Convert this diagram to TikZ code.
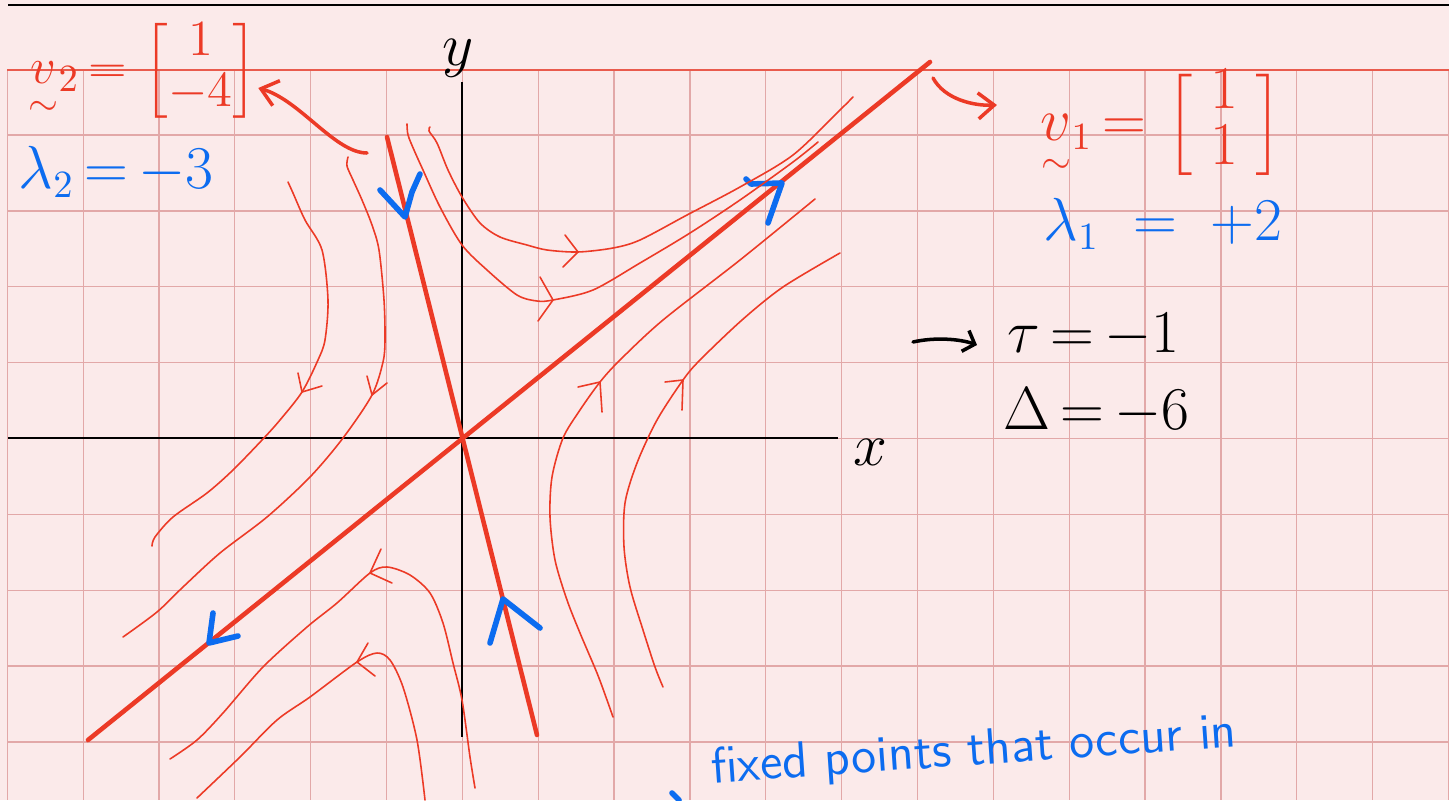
\documentclass[tikz,border=0pt]{standalone}
\usepackage{amsmath, amssymb}
\usepackage{tikz}
\usetikzlibrary{arrows.meta,positioning,calc}

\definecolor{paper}{RGB}{251,234,234}
\definecolor{gridline}{RGB}{226,168,168}
\definecolor{penred}{RGB}{236,58,38}
\definecolor{penblue}{RGB}{12,108,240}
\renewcommand{\arraystretch}{0.8}
\newcommand{\vecsym}{\underset{\sim}{v}}

\begin{document}
\begin{tikzpicture}[
  x=0.01cm,
  y=-0.01cm,
  axis/.style={black, line width=0.6pt},
  eigen/.style={penred, line width=1.3pt, line cap=round},
  traj/.style={penred, line width=0.45pt, line cap=round, line join=round},
  flow/.style={penblue, line width=1.6pt, line cap=round, line join=round},
  pointer/.style={line width=1pt, line cap=round, -{Straight Barb[length=1.6mm, width=2.6mm, line width=1pt]}},
  hand/.style={inner sep=0pt, font=\fontsize{16}{19}\selectfont}
]
  % Paper: 1449 x 800 units, y pointing down
  \useasboundingbox (0,0) rectangle (1449,800);
  \fill[paper] (0,0) rectangle (1449,800);
  \draw[black, line width=0.6pt] (8,5) -- (1449,5);
  % Grid squares (75.85 units each)
  \foreach \k in {0,...,19} {
    \draw[gridline, line width=0.35pt] ({7.3+75.85*\k}, 70) -- ({7.3+75.85*\k}, 800);
  }
  \foreach \k in {0,...,8} {
    \draw[gridline, line width=0.35pt] (7.3, {135.1+75.85*\k}) -- (1449, {135.1+75.85*\k});
  }
  \draw[penred!70!gridline, line width=0.35pt] (7.3,70) -- (1449,70);

  % Axes
  \coordinate (O) at (462,438);
  \draw[axis] (8,438) -- (838,438);
  \draw[axis] (462,82) -- (462,737);
  \node[hand, font=\fontsize{19}{22}\selectfont] (ylab) at (458,58) {$y$};
  \node[hand, font=\fontsize{19}{22}\selectfont] (xlab) at (870,452) {$x$};

  % Eigen-directions through the saddle
  \coordinate (e1a) at (88,740);
  \coordinate (e1b) at (930,62);
  \coordinate (e2a) at (387,137);
  \coordinate (e2b) at (537,735);
  \draw[eigen] (e1a) -- (e1b);
  \draw[eigen] (e2a) -- (e2b);

  % Direction of flow on the eigenlines
  \draw[flow] (380,190) -- (405,217) -- (412,192) -- (420,174);
  \draw[flow] (746,179) -- (751,184) -- (782,183) -- (768,223);
  \draw[flow] (213,613) -- (209,643) -- (238,636);
  \draw[flow] (490,643) -- (503,599) -- (540,628);

  % Trajectories, upper left: down, then out along -v1
  \draw[traj] plot[smooth] coordinates {(288,182) (293,193) (305,220) (322,250) (328,300) (325,340) (318,360) (302,392) (280,420) (263,439) (233,470) (207,493) (173,517) (155,537) (152,546)};
  \draw[traj] (298,373) -- (302,392) -- (322,386);
  \draw[traj] plot[smooth] coordinates {(348,157) (347,166) (353,180) (362,200) (372,225) (379,250) (384,300) (385,340) (383,362) (372,395) (343,438) (310,477) (267,517) (220,553) (183,587) (157,612) (123,637)};
  \draw[traj] (367,376) -- (372,395) -- (387,383);
  % upper: down, then out along +v1
  \draw[traj] plot[smooth] coordinates {(407,124) (408,135) (414,150) (423,170) (440,207) (462,245) (487,270) (517,295) (537,301) (553,300) (593,290) (640,263) (690,233) (740,200) (793,162) (818,142)};
  \draw[traj] (540,277) -- (553,300) -- (538,321);
  \draw[traj] plot[smooth] coordinates {(430,127) (429,131) (437,143) (448,170) (462,197) (480,223) (500,237) (527,245) (547,250) (578,252) (613,248) (640,240) (687,215) (740,187) (793,155) (840,110) (853,97)};
  \draw[traj] (565,235) -- (578,252) -- (563,267);
  % lower right: up, then out along +v1
  \draw[traj] plot[smooth] coordinates {(613,717) (607,700) (597,673) (580,633) (567,600) (555,560) (550,517) (552,477) (563,438) (580,410) (600,382) (620,360) (663,320) (740,260) (815,199)};
  \draw[traj] (578,387) -- (600,382) -- (602,412);
  \draw[traj] plot[smooth] coordinates {(663,687) (655,667) (643,630) (630,587) (624,547) (625,503) (637,463) (657,420) (683,380) (700,360) (742,320) (783,287) (840,253)};
  \draw[traj] (665,382) -- (683,380) -- (682,410);
  % lower left: up, then out along -v1
  \draw[traj] plot[smooth] coordinates {(475,788) (470,757) (462,700) (453,663) (443,623) (430,593) (410,575) (387,567) (370,573) (337,603) (307,627) (263,667) (223,713) (197,740) (170,759)};
  \draw[traj] (381,549) -- (370,573) -- (392,583);
  \draw[traj] plot[smooth] coordinates {(425,800) (417,740) (403,687) (390,660) (377,653) (357,662) (310,697) (277,720) (240,757) (197,798)};
  \draw[traj] (368,643) -- (357,662) -- (375,676);

  % Eigenvectors and eigenvalues
  \node[hand, text=penred, anchor=west, font=\fontsize{15}{18}\selectfont] (v2lab) at (28,71) {$\vecsym{}_{2}\,{=}\,\begin{bmatrix} 1 \\ -4 \end{bmatrix}$};
  \node[hand, text=penblue, anchor=west] (l2lab) at (18,172) {$\lambda_{2}\,{=}\,{-3}$};
  \node[hand, text=penred, anchor=west] (v1lab) at (1040,125) {$\vecsym{}_{1}\,{=}\,\begin{bmatrix} \;1\; \\ \;1\; \end{bmatrix}$};
  \node[hand, text=penblue, anchor=west] (l1lab) at (1043,224) {$\lambda_{1} \;=\; +2$};
  \coordinate (v2tail) at (367,153);
  \coordinate (v1tail) at (933,78);
  \draw[pointer, penred] (v2tail) .. controls (335,153) and (300,100) .. ([yshift=-1.7mm]v2lab.east);
  \draw[pointer, penred] (v1tail) .. controls (945,100) and (975,106) .. ([xshift=-4.3mm, yshift=2mm]v1lab.west);

  % Trace and determinant
  \node[hand, anchor=west] (tau) at (1007,335) {${\tau}\,{=}\,{-1}$};
  \node[hand, anchor=west] (delta) at (1003,411) {${\Delta}\,{=}\,{-6}$};
  \coordinate (tautail) at (913,342);
  \draw[line width=1pt, line cap=round, -{Straight Barb[length=1mm, width=2.2mm, line width=1pt]}] (tautail) .. controls (935,337) and (960,339) .. ([xshift=-3mm, yshift=-1mm]tau.west);

  % Note at the foot of the page
  \node[inner sep=0pt, text=penblue, rotate=4, font=\sffamily\fontsize{14.5}{17}\selectfont] (note) at (974,752) {fixed points that occur in};
  \draw[flow] (672,793) -- (679,800);
\end{tikzpicture}
\end{document}
